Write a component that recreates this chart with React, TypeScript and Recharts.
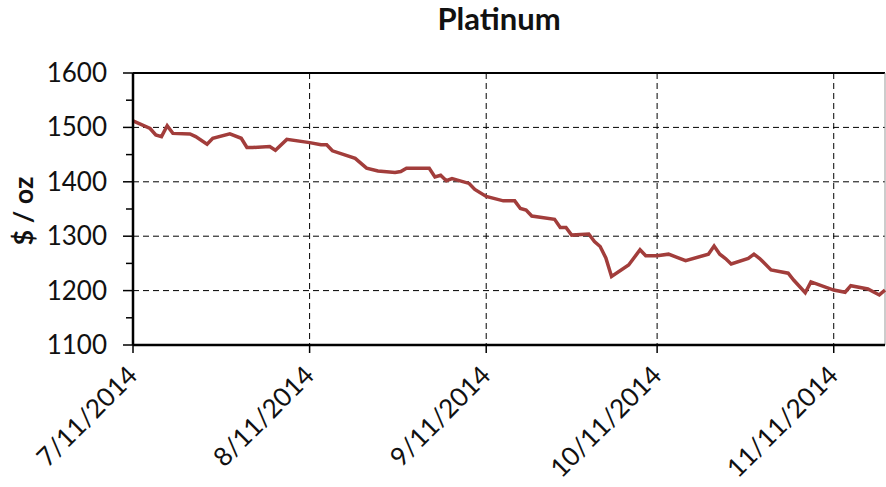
import React from "react"
import {
  LineChart,
  Line,
  XAxis,
  YAxis,
  CartesianGrid,
  ReferenceLine,
  Label,
} from "recharts"

// days after 7/11/2014
const days = [
  0, 3, 4, 5, 6, 7, 10, 11, 13, 14, 17, 19, 20, 21, 24, 25, 27, 31, 33, 34,
  35, 39, 41, 43, 46, 47, 48, 52, 53, 54, 55, 56, 59, 60, 62, 65, 67, 68, 69,
  70, 74, 75, 76, 77, 80, 81, 82, 83, 84, 87, 89, 90, 92, 94, 97, 101, 102,
  103, 104, 105, 108, 109, 110, 112, 115, 116, 118, 119, 123, 125, 126, 129,
  131, 132,
]

const prices = [
  1512, 1498, 1486, 1483, 1503, 1489, 1488, 1483, 1469, 1480, 1488, 1480,
  1463, 1463, 1465, 1458, 1478, 1472, 1468, 1468, 1457, 1443, 1425, 1420,
  1417, 1419, 1425, 1425, 1409, 1412, 1402, 1406, 1397, 1386, 1373, 1365,
  1365, 1351, 1348, 1337, 1331, 1316, 1316, 1302, 1304, 1290, 1281, 1260,
  1226, 1247, 1275, 1264, 1264, 1267, 1255, 1267, 1282, 1267, 1259, 1249,
  1259, 1267, 1259, 1238, 1232, 1219, 1196, 1216, 1201, 1197, 1209, 1203,
  1192, 1201,
]

const xTickDays = [0, 31, 62, 92, 123]
const xTickLabels = ["7/11/2014", "8/11/2014", "9/11/2014", "10/11/2014", "11/11/2014"]
const yTicks = [1100, 1150, 1200, 1250, 1300, 1350, 1400, 1450, 1500, 1550, 1600]
const yGrid = [1200, 1300, 1400, 1500]

const data = days.map((d, i) => ({ day: d, price: prices[i] }))

const FONT = "Lato, 'Open Sans', sans-serif"
const Y_TICK = 10
const Y_GAP = 16

const YTick = ({ x, y, payload }: any) => {
  const axisX = x + Y_TICK + Y_GAP
  const major = payload.value % 100 === 0
  return (
    <g>
      <line x1={axisX - (major ? 10 : 7)} x2={axisX} y1={y} y2={y} stroke="#000" strokeWidth={1.5} />
      {major && (
        <text x={x} y={y} dy={9} textAnchor="end" fontSize={26} fontFamily={FONT} fill="#111">
          {payload.value}
        </text>
      )}
    </g>
  )
}

const XTick = ({ x, y, payload }: any) => {
  const i = xTickDays.indexOf(payload.value)
  const ax = x + 6
  const ay = y + 22
  return (
    <text
      x={ax}
      y={ay}
      transform={`rotate(-45 ${ax} ${ay})`}
      textAnchor="end"
      fontSize={26}
      fontFamily={FONT}
      fill="#111"
    >
      {xTickLabels[i]}
    </text>
  )
}

export default function App() {
  return (
    <div style={{ position: "absolute", left: 0, top: 0, width: 886, height: 487, background: "#fff" }}>
      <LineChart
        width={886}
        height={487}
        data={data}
        margin={{ top: 73, right: 1, bottom: 0, left: 0 }}
      >
        <text x={499} y={30} textAnchor="middle" fontSize={31} fontWeight="bold" fontFamily={FONT} fill="#111">
          Platinum
        </text>
        <CartesianGrid
          stroke="#000"
          strokeDasharray="6 4"
          strokeWidth={1}
          horizontalValues={yGrid}
          verticalValues={xTickDays.slice(1)}
        />
        <ReferenceLine y={1600} stroke="#000" strokeWidth={2} />
        <ReferenceLine x={132} stroke="#999" strokeWidth={1} />
        <XAxis
          dataKey="day"
          type="number"
          domain={[0, 132]}
          ticks={xTickDays}
          interval={0}
          height={142}
          axisLine={{ stroke: "#000", strokeWidth: 2.5 }}
          tickLine={{ stroke: "#000", strokeWidth: 1.5 }}
          tickSize={8}
          tick={<XTick />}
        />
        <YAxis
          type="number"
          domain={[1100, 1600]}
          ticks={yTicks}
          interval={0}
          width={133}
          axisLine={{ stroke: "#000", strokeWidth: 2.5 }}
          tickLine={false}
          tickSize={Y_TICK}
          tickMargin={Y_GAP}
          tick={<YTick />}
        >
          <Label
            content={() => (
              <text
                x={33}
                y={211}
                transform="rotate(-90 33 211)"
                textAnchor="middle"
                fontSize={27}
                fontWeight="bold"
                fontFamily={FONT}
                fill="#111"
              >
                $ / oz
              </text>
            )}
          />
        </YAxis>
        <Line
          type="linear"
          dataKey="price"
          stroke="#A23D3B"
          strokeWidth={3.5}
          dot={false}
          isAnimationActive={false}
        />
      </LineChart>
    </div>
  )
}
